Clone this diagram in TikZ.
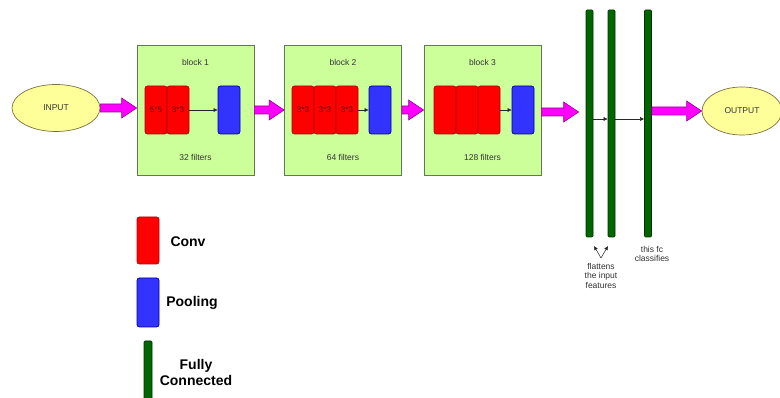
\documentclass[tikz,border=0pt]{standalone}
\usepackage{fontspec}
\setmainfont{Liberation Sans}
\usetikzlibrary{calc,arrows.meta,shapes.geometric}
\definecolor{blockfill}{HTML}{CCFF99}
\definecolor{blockdraw}{HTML}{5F7A55}
\definecolor{convfill}{HTML}{FF0000}
\definecolor{convdraw}{HTML}{B20000}
\definecolor{convtext}{HTML}{5A0000}
\definecolor{poolfill}{HTML}{3333FF}
\definecolor{pooldraw}{HTML}{000099}
\definecolor{fcfill}{HTML}{006600}
\definecolor{fcdraw}{HTML}{003300}
\definecolor{iofill}{HTML}{FFFF99}
\definecolor{iodraw}{HTML}{7F7040}
\definecolor{magfill}{HTML}{FF00FF}
\definecolor{magdraw}{HTML}{990099}
\definecolor{textgray}{HTML}{333333}
\newcommand\fatarrow[2]{%
  \path[fatarr] let \p1=(#1), \p2=(#2) in
    (\x1,\y1+4pt) -- (\x2-15pt,\y1+4pt) -- (\x2-15pt,\y1+10pt) -- (\x2,\y1)
    -- (\x2-15pt,\y1-10pt) -- (\x2-15pt,\y1-4pt) -- (\x1,\y1-4pt) -- cycle;}
\begin{document}
\begin{tikzpicture}[x=1pt,y=-1pt,
  blockbox/.style={draw=blockdraw, fill=blockfill, minimum width=117pt, minimum height=130pt, inner sep=0pt, line width=0.8pt},
  convbox/.style={draw=convdraw, fill=convfill, rounded corners=2.5pt, minimum width=22pt, minimum height=48pt, inner sep=0pt, line width=0.7pt, font=\fontsize{8}{9}\selectfont, text=convtext},
  poolbox/.style={draw=pooldraw, fill=poolfill, rounded corners=2.5pt, minimum width=22pt, minimum height=48pt, inner sep=0pt, line width=0.7pt},
  fcbar/.style={draw=fcdraw, fill=fcfill, rounded corners=1pt, minimum width=7pt, minimum height=227pt, inner sep=0pt, line width=0.6pt},
  iobox/.style={ellipse, draw=iodraw, fill=iofill, minimum width=88pt, minimum height=47pt, inner sep=0pt, line width=0.7pt, font=\fontsize{8.5}{10}\selectfont, text=textgray},
  lbl/.style={font=\fontsize{8.5}{10}\selectfont, text=textgray, align=center, inner sep=0pt},
  legendtext/.style={font=\fontsize{14}{16}\selectfont\bfseries, align=center, inner sep=0pt},
  conn/.style={-{Latex[length=4pt,width=4pt]}, line width=0.5pt, draw=black!85},
  fatarr/.style={fill=magfill, draw=magdraw, line width=0.6pt}
]
\useasboundingbox (0,0) rectangle (780,398);
\fill[white] (0,0) rectangle (780,398);

% input / output
\node[iobox] (in) at (56,108) {INPUT};
\node[iobox, minimum width=80pt, minimum height=48pt] (out) at (742,111) {OUTPUT};

% blocks
\node[blockbox] (b1) at (195.5,110) {};
\node[blockbox] (b2) at (343,110) {};
\node[blockbox] (b3) at (482.5,110) {};

\node[lbl] (b1t) at (195.5,62) {block 1};
\node[lbl] (b2t) at (343,62) {block 2};
\node[lbl] (b3t) at (482.5,62) {block 3};
\node[lbl] (b1f) at (195.5,157) {32 filters};
\node[lbl] (b2f) at (343,157) {64 filters};
\node[lbl] (b3f) at (482.5,157) {128 filters};

% block 1 contents
\node[convbox] (c11) at (156,110) {5*5};
\node[convbox] (c12) at (178,110) {3*3};
\node[poolbox] (p1) at (229,110) {};
\draw[conn] (c12.east) -- (p1.west);

% block 2 contents
\node[convbox] (c21) at (303,110) {3*3};
\node[convbox] (c22) at (325,110) {3*3};
\node[convbox] (c23) at (347,110) {3*3};
\node[poolbox] (p2) at (380,110) {};
\draw[conn] (c23.east) -- (p2.west);

% block 3 contents
\node[convbox] (c31) at (445,110) {};
\node[convbox] (c32) at (467,110) {};
\node[convbox] (c33) at (489,110) {};
\node[poolbox] (p3) at (523,110) {};
\draw[conn] (c33.east) -- (p3.west);

% fully connected bars
\node[fcbar] (fc1) at (589.5,123.5) {};
\node[fcbar] (fc2) at (611.5,123.5) {};
\node[fcbar] (fc3) at (648,123.5) {};

\coordinate (ya) at (0,119);
\coordinate (yb) at (0,112);
\draw[conn] (fc1.east |- ya) -- (fc2.west |- ya);
\draw[conn] (fc2.east |- ya) -- (fc3.west |- ya);

% fat arrows
\fatarrow{in.east}{b1.west}
\fatarrow{b1.east}{b2.west}
\fatarrow{b2.east}{b3.west}
\fatarrow{b3.east |- yb}{$(fc1.west |- yb)+(-7,0)$}
\fatarrow{fc3.east |- out.west}{out.west}

% annotations
\node[lbl] (flat) at (601,275.5) {flattens\\[-0.5pt]the input\\[-0.5pt]features};
\node[lbl] (cls) at (652,254) {this fc\\[-0.5pt]classifies};
\coordinate (v) at (601,258);
\coordinate (va) at (594,246);
\coordinate (vb) at (608,246);
\draw[conn] (v) -- (va);
\draw[conn] (v) -- (vb);

% legend
\node[convbox] (lconv) at (148,240.5) [minimum height=47pt] {};
\node[legendtext] (lconvt) at (188,242) {Conv};
\node[poolbox] (lpool) at (148,302.5) [minimum height=49pt] {};
\node[legendtext] (lpoolt) at (192,303) {Pooling};
\node[fcbar] (lfc) at (148,372) [minimum width=8pt, minimum height=62pt] {};
\node[legendtext] (lfct) at (196,372) {Fully\\[0pt]Connected};
\end{tikzpicture}
\end{document}
